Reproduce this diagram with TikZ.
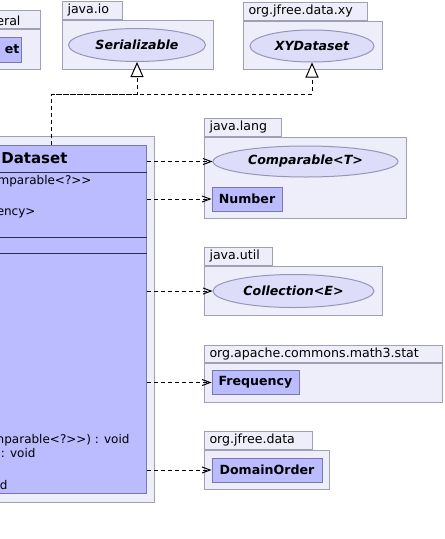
\documentclass[tikz,border=0pt]{standalone}
\usepackage{fontspec}
\setmainfont{DejaVu Sans}
\usepackage{tikz}
\usetikzlibrary{positioning,shapes.geometric,arrows.meta}
\definecolor{pkgfill}{RGB}{238,238,250}
\definecolor{pkgline}{RGB}{160,160,180}
\definecolor{clsfill}{RGB}{187,187,255}
\definecolor{clsline}{RGB}{120,120,170}
\definecolor{iffill}{RGB}{221,221,250}
\definecolor{ifline}{RGB}{150,150,185}
\newcommand{\umlfont}{\fontsize{12.6}{14}\selectfont}
\newcommand{\memberfont}{\fontsize{12}{14}\selectfont}
\tikzstyle{pkgtab} = [draw=pkgline, fill=pkgfill, rectangle, anchor=south west, inner xsep=5pt, inner ysep=0pt, minimum height=18pt, align=left, font=\umlfont]
\tikzstyle{pkgbody} = [draw=pkgline, fill=pkgfill, rectangle, anchor=north west, inner sep=0pt]
\tikzstyle{iface} = [ellipse, draw=ifline, fill=iffill, inner sep=0pt, font=\umlfont\bfseries\itshape]
\tikzstyle{cls} = [rectangle, draw=clsline, fill=clsfill, inner sep=0pt, minimum height=24pt, font=\umlfont\bfseries]
\tikzstyle{member} = [anchor=base east, inner sep=0pt, font=\memberfont]
\tikzstyle{dep} = [-{Straight Barb[length=8pt,width=6pt]}, dash pattern=on 4pt off 3pt, line width=1pt]
\tikzstyle{inh} = [-{Triangle[fill=white,length=15pt,width=13pt]}, dash pattern=on 4pt off 3pt, line width=1pt]

\begin{document}
\begin{tikzpicture}[x=1pt, y=-1pt, line width=1pt]
	\useasboundingbox (0,0) rectangle (445,539);
	% packages along the top
	\node (genbody) [pkgbody, minimum width=100pt, minimum height=40pt] at (-60,29) {};
	\node (gentab) [pkgtab, minimum width=100pt] at (-60,29) {};
	\node (genname) [member, font=\umlfont] at (21,25) {eral};
	\node (gencls) [cls, anchor=east, minimum width=60pt, minimum height=25pt, text width=56pt, align=right] at (22,49.5) {et};
	\node (iobody) [pkgbody, minimum width=151pt, minimum height=49pt] at (62,20) {};
	\node (iotab) [pkgtab, text width=50pt] at (62,20) {java.io};
	\node (ser) [iface, minimum width=137pt, minimum height=33pt] at (137,45) {Serializable};
	\node (xybody) [pkgbody, minimum width=139pt, minimum height=48pt] at (243,21) {};
	\node (xytab) [pkgtab, text width=114pt] at (243,21) {org.jfree.data.xy};
	\node (xyd) [iface, minimum width=124pt, minimum height=32pt] at (312,46) {XYDataset};
	% the class itself
	\node (dspkg) [pkgbody, minimum width=254pt, minimum height=366pt] at (-100,136) {};
	\node (ds) [cls, anchor=north west, minimum width=246pt, minimum height=348pt] at (-100,145) {};
	\draw [clsline!40!black] (ds.west |- 0,172) -- (ds.east |- 0,172);
	\draw [clsline!40!black] (ds.west |- 0,237) -- (ds.east |- 0,237);
	\draw [clsline!40!black] (ds.west |- 0,253) -- (ds.east |- 0,253);
	\node (dsname) [member, font=\fontsize{15}{18}\selectfont\bfseries] at (68,163) {Dataset};
	\node (att1) [member] at (92,184) {mparable<?>{}>};
	\node (att2) [member] at (36,215) {ency>};
	\node (op1) [member] at (130,443) {nparable<?>{}>) : void};
	\node (op2) [member] at (36,457) {: void};
	\node (op3) [member] at (8,489) {d};
	% packages on the right
	\node (langbody) [pkgbody, minimum width=202pt, minimum height=81pt] at (204,137) {};
	\node (langtab) [pkgtab, text width=67pt] at (204,137) {java.lang};
	\node (cmp) [iface, minimum width=185pt, minimum height=31pt] at (305.5,161.5) {Comparable<T>};
	\node (num) [cls, minimum width=70pt] at (247,199) {Number};
	\node (utilbody) [pkgbody, minimum width=178pt, minimum height=49pt] at (204,266) {};
	\node (utiltab) [pkgtab, text width=58pt] at (204,266) {java.util};
	\node (col) [iface, minimum width=161pt, minimum height=33pt] at (293.5,291) {Collection<E>};
	\node (statbody) [pkgbody, minimum width=238pt, minimum height=39pt] at (204,363) {};
	\node (stattab) [pkgtab, text width=228pt, minimum height=17pt] at (204,363) {org.apache.commons.math3.stat};
	\node (freq) [cls, minimum width=87pt] at (255.5,382.5) {Frequency};
	\node (databody) [pkgbody, minimum width=125pt, minimum height=39pt] at (204,450) {};
	\node (datatab) [pkgtab, text width=98pt] at (204,450) {org.jfree.data};
	\node (dom) [cls, minimum width=110pt] at (267,470) {DomainOrder};
	% realization
	\coordinate (dstop) at (51,145);
	\coordinate (split) at (51,94);
	\draw [inh] (dstop) -- (split) -| (xyd);
	\draw [inh] (split) -| (ser);
	% dependencies
	\draw [dep] (ds.east |- cmp) -- (cmp);
	\draw [dep] (ds.east |- num) -- (num);
	\draw [dep] (ds.east |- col) -- (col);
	\draw [dep] (ds.east |- freq) -- (freq);
	\draw [dep] (ds.east |- dom) -- (dom);
\end{tikzpicture}
\end{document}
